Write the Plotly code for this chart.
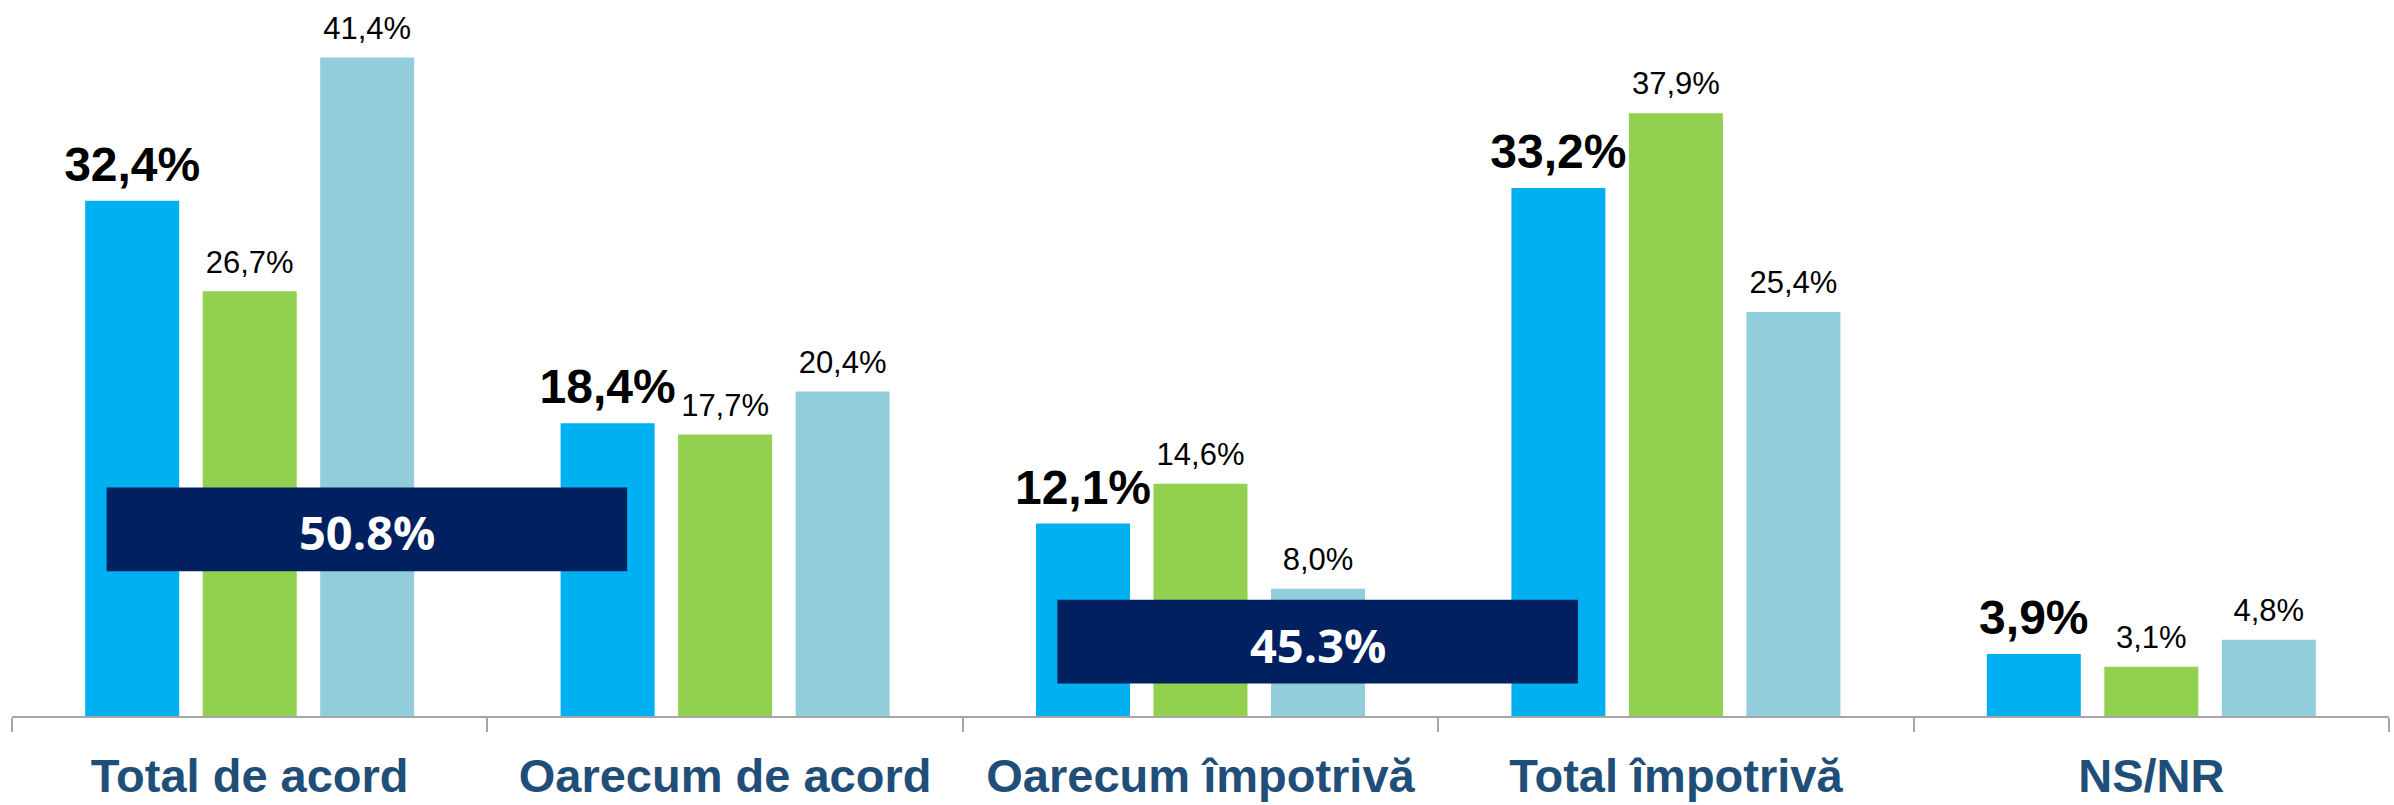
import plotly.graph_objects as go

categories = ["Total de acord", "Oarecum de acord", "Oarecum împotrivă", "Total împotrivă", "NS/NR"]
series_names = ["Total", "Grup 1", "Grup 2"]
total_vals = [32.4, 18.4, 12.1, 33.2, 3.9]
grup1_vals = [26.7, 17.7, 14.6, 37.9, 3.1]
grup2_vals = [41.4, 20.4, 8.0, 25.4, 4.8]

# summary boxes: sum of the "Total" series over pairs of categories
box_groups = [(0, 1), (2, 3)]

colors = ["#00B0F0", "#92D050", "#92CDDC"]
BOX_COLOR = "#002060"
LABEL_COLOR = "#1F4E79"
FONT = "Liberation Sans, Arial, sans-serif"
BARGAP = 0.2585
PX_PER_UNIT = 16.15
W, H = 2394, 805
TOP = 3
PLOT_H = 724

fig = go.Figure()
all_vals = [total_vals, grup1_vals, grup2_vals]
for name, vals, col in zip(series_names, all_vals, colors):
    fig.add_trace(go.Bar(
        name=name, x=categories, y=vals, marker=dict(color=col, line=dict(width=0)),
        hoverinfo="x+y+name",
    ))

# value labels (invisible markers used only as padding above the bars)
for name, vals, bold in zip(series_names, all_vals, [True, False, False]):
    fig.add_trace(go.Scatter(
        name=name, x=categories, y=vals, mode="markers+text", orientation="v",
        marker=dict(size=11 if bold else 16, opacity=0),
        texttemplate="%{y:.1f}%", textposition="top center",
        textfont=dict(family=FONT, size=48 if bold else 31, color="#000000",
                      weight="bold" if bold else "normal"),
        cliponaxis=False, hoverinfo="skip", showlegend=False,
    ))

ymax = PLOT_H / PX_PER_UNIT
box_y = [(9.10, 14.37), (2.04, 7.31)]
for (a, b), (y0, y1) in zip(box_groups, box_y):
    s = total_vals[a] + total_vals[b]
    fig.add_shape(type="rect", xref="x", yref="y", x0=a - 0.301, x1=b - 0.206,
                  y0=y0, y1=y1, fillcolor=BOX_COLOR, line=dict(width=0), layer="above")
    fig.add_annotation(xref="x", yref="y", x=(a - 0.301 + b - 0.206) / 2, y=(y0 + y1) / 2,
                       yshift=-3, text=f"{s:.1f}%", showarrow=False,
                       font=dict(family="Open Sans, sans-serif", size=47, color="white", weight="bold"))

fig.update_layout(
    width=W, height=H,
    margin=dict(l=12, r=5, t=TOP, b=H - PLOT_H - TOP),
    barmode="group", bargap=BARGAP, bargroupgap=0.2,
    scattermode="group", scattergap=BARGAP,
    separators=",.",
    plot_bgcolor="white", paper_bgcolor="white",
    showlegend=False,
    font=dict(family=FONT),
)
fig.update_xaxes(
    showline=True, linecolor="#A6A6A6", linewidth=1.5,
    ticks="outside", tickson="boundaries", ticklen=14, tickcolor="#A6A6A6", tickwidth=1.5,
    tickfont=dict(family=FONT, size=47, color=LABEL_COLOR, weight="bold"),
    ticklabelstandoff=18,
    showgrid=False, zeroline=False,
)
fig.update_yaxes(range=[0, ymax], visible=False, showgrid=False, zeroline=False)

fig.write_html("out.html", config={"displayModeBar": False},
               post_script="document.body.style.margin='0';")
